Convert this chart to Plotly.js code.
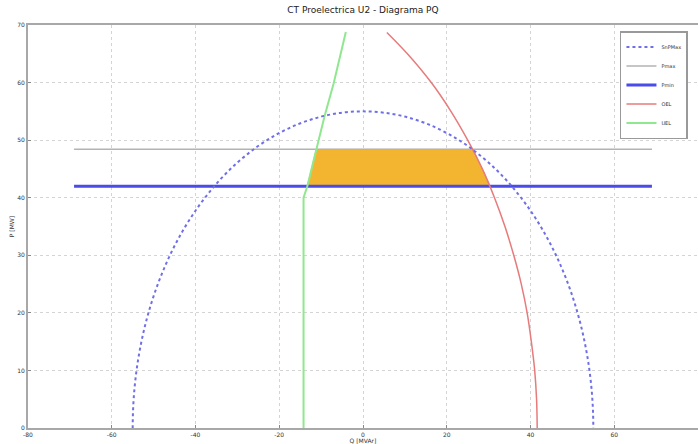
<!DOCTYPE html>
<html>
<head>
<meta charset="utf-8">
<script src="https://cdn.plot.ly/plotly-3.0.1.min.js"></script>
<style>html,body{margin:0;padding:0;background:#fff;}#chart{width:698px;height:444px;}</style>
</head>
<body>
<div id="chart"></div>
<script>
// ---- data ----
const S_MAX = 55;                 // apparent power limit (semicircle radius)
const P_MAX = 48.4;
const P_MIN = 42.0;
const Q_SPAN = [-69, 69];         // extent of the P limit lines

const OEL_Q = [5.7, 10.6, 16.3, 21.0, 25.0, 28.5, 31.4, 33.9, 36.0, 37.8, 39.2, 40.2, 41.0, 41.45, 41.6];
const OEL_P = [68.7, 65, 60, 55, 50, 45, 40, 35, 30, 25, 20, 15, 10, 5, 0];

const UEL_Q = [-14.2, -14.2, -13.3, -11.2, -9.2, -7.0, -4.1];
const UEL_P = [0, 40.0, 42.0, 48.3, 54.1, 59.9, 68.8];

const FILL_Q = [-13.3, -11.2, 26.3, 28.5, 30.4];
const FILL_P = [42.0, 48.4, 48.4, 45.0, 42.0];

const X_TICKS = [-80, -60, -40, -20, 0, 20, 40, 60, 80];
const Y_TICKS = [0, 10, 20, 30, 40, 50, 60, 70];

const traces = [
  {x: FILL_Q, y: FILL_P, mode: 'lines', fill: 'toself', fillcolor: 'rgb(243,181,48)',
   line: {width: 0.5, color: 'rgb(200,150,40)'}, showlegend: false, hoverinfo: 'skip'},
  {x: [null], y: [null], mode: 'lines', name: 'SnPMax',
   line: {color: '#6f6fe8', width: 2, dash: '3px,3px'}},
  {x: Q_SPAN, y: [P_MAX, P_MAX], mode: 'lines', name: 'Pmax',
   line: {color: '#b3b3b3', width: 1.5}},
  {x: Q_SPAN, y: [P_MIN, P_MIN], mode: 'lines', name: 'Pmin',
   line: {color: '#4b4be8', width: 3}},
  {x: OEL_Q, y: OEL_P, mode: 'lines', name: 'OEL',
   line: {color: '#e77b7b', width: 1.5, shape: 'spline', smoothing: 1}},
  {x: UEL_Q, y: UEL_P, mode: 'lines', name: 'UEL',
   line: {color: '#8fe88f', width: 2}}
];

const axisCommon = {
  showgrid: true, gridcolor: '#d4d4d4', griddash: 'dot', gridwidth: 1,
  zeroline: false, showline: true, linecolor: '#a8a8a8', linewidth: 2, mirror: true,
  ticks: 'inside', ticklen: 3, tickcolor: '#888',
  tickfont: {family: 'DejaVu Sans', size: 6, color: '#333'}
};

const layout = {
  width: 698, height: 444,
  margin: {l: 28, r: 0, t: 25, b: 16, pad: 0},
  paper_bgcolor: '#fff', plot_bgcolor: '#fff',
  title: {text: 'CT Proelectrica U2 - Diagrama PQ', x: 0.52, xanchor: 'center', y: 0.985, yanchor: 'top',
          font: {family: 'DejaVu Sans', size: 9, color: '#222'}},
  xaxis: Object.assign({}, axisCommon, {
    range: [-80, 80], tickvals: X_TICKS, ticktext: X_TICKS.map(String),
    title: {text: 'Q [MVAr]', standoff: 2, font: {family: 'DejaVu Sans', size: 6, color: '#333'}}
  }),
  yaxis: Object.assign({}, axisCommon, {
    range: [0, 70], tickvals: Y_TICKS, ticktext: Y_TICKS.map(String),
    title: {text: 'P [MW]', standoff: 2, font: {family: 'DejaVu Sans', size: 6, color: '#333'}}
  }),
  shapes: [
    {type: 'circle', xref: 'x', yref: 'y', x0: -S_MAX, x1: S_MAX, y0: -S_MAX, y1: S_MAX,
     line: {color: '#6f6fe8', width: 2, dash: '3px,3px'}, layer: 'above'}
  ],
  legend: {x: 0.985, xanchor: 'right', y: 0.985, yanchor: 'top',
           bgcolor: '#fff', bordercolor: '#999', borderwidth: 1.5,
           font: {family: 'DejaVu Sans', size: 5, color: '#333'},
           itemwidth: 30, tracegroupgap: 0},
  showlegend: true
};

Plotly.newPlot('chart', traces, layout, {displayModeBar: false, staticPlot: true});
</script>
</body>
</html>
